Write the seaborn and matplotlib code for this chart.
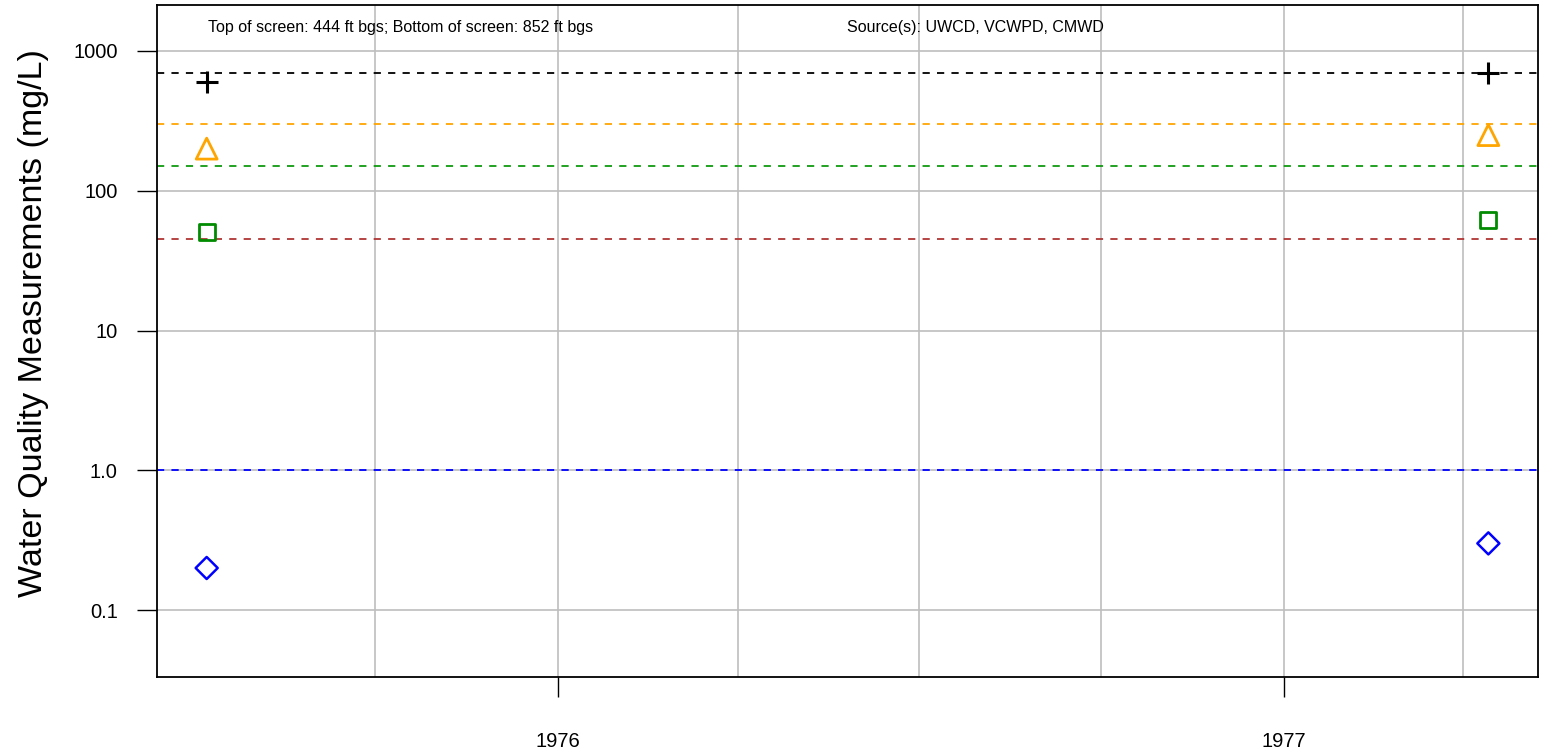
import pandas as pd
import matplotlib
matplotlib.use("Agg")
import matplotlib.pyplot as plt
import matplotlib.dates as mdates
import matplotlib.ticker as mticker
import seaborn as sns

# Sample dates and measured values (mg/L)
sample_dates = pd.to_datetime(["1975-07-08", "1977-04-14"])
tds = [600, 690]
sulfate = [200, 250]
chloride = [51, 62]
boron = [0.2, 0.3]

# Reference limits (dashed lines)
limit_values = [700, 300, 150, 45, 1.0]
limit_colors = ["black", "orange", "#109a10", "#b03535", "blue"]

y_ticks = [0.1, 1, 10, 100, 1000]
y_tick_labels = ["0.1", "1.0", "10", "100", "1000"]

top_note = "Top of screen: 444 ft bgs; Bottom of screen: 852 ft bgs"
source_note = "Source(s): UWCD, VCWPD, CMWD"

sns.set_style("white")
plt.rcParams["font.family"] = ["Liberation Sans", "DejaVu Sans"]
plt.rcParams["text.color"] = "black"
plt.rcParams["xtick.color"] = "black"
plt.rcParams["ytick.color"] = "black"
plt.rcParams["axes.labelcolor"] = "black"

fig = plt.figure(figsize=(15.46, 7.49), dpi=100)
ax = fig.add_axes([0.1016, 0.0961, 0.8932, 0.8972])

ax.set_yscale("log")
ax.set_ylim(0.0332, 2130)
ax.set_xlim(pd.Timestamp("1975-06-13"), pd.Timestamp("1977-05-09"))

# grid: quarters on x (from Oct 1975), decades on y
quarters = pd.date_range("1975-10-01", "1977-04-01", freq="QS")
ax.xaxis.set_major_locator(mdates.YearLocator())
ax.xaxis.set_major_formatter(mdates.DateFormatter("%Y"))
ax.xaxis.set_minor_locator(mticker.FixedLocator(mdates.date2num(quarters)))
ax.grid(True, which="both", axis="x", color="#bebebe", lw=1.2)
ax.yaxis.set_major_locator(mticker.FixedLocator(y_ticks))
ax.yaxis.set_major_formatter(mticker.FixedFormatter(y_tick_labels))
ax.yaxis.set_minor_locator(mticker.NullLocator())
ax.grid(True, which="major", axis="y", color="#bebebe", lw=1.2)
ax.set_axisbelow(True)

for val, col in zip(limit_values, limit_colors):
    ax.axhline(val, color=col, lw=1.3, dashes=(4, 4))

sns.scatterplot(x=sample_dates, y=tds, marker="+", s=250, color="black",
                linewidth=2.2, ax=ax, zorder=3)
sns.scatterplot(x=sample_dates, y=sulfate, marker="^", s=227, facecolors="none",
                edgecolor="orange", linewidth=2.0, ax=ax, zorder=3)
sns.scatterplot(x=sample_dates, y=chloride, marker="s", s=133, facecolors="none",
                edgecolor="#008b00", linewidth=2.0, ax=ax, zorder=3)
sns.scatterplot(x=sample_dates, y=boron, marker="D", s=126, facecolors="none",
                edgecolor="blue", linewidth=1.8, ax=ax, zorder=3)

ax.text(0.0369, 0.966, top_note, transform=ax.transAxes, fontsize=11.5,
        ha="left", va="center")
ax.text(0.4996, 0.966, source_note, transform=ax.transAxes, fontsize=11.5,
        ha="left", va="center")

ax.tick_params(axis="x", which="major", length=14.4, width=1, pad=25.5,
               labelsize=14.5, bottom=True)
ax.tick_params(axis="x", which="minor", length=0)
ax.tick_params(axis="y", which="major", length=14.4, width=1, pad=14,
               labelsize=14.5, left=True)

ax.set_xlabel("")
ax.set_ylabel("Water Quality Measurements (mg/L)", fontsize=24.5)
ax.yaxis.set_label_coords(-0.0785, 0.527)

for sp in ax.spines.values():
    sp.set_color("black")
    sp.set_linewidth(1.3)

fig.savefig("out.png", dpi=100)
